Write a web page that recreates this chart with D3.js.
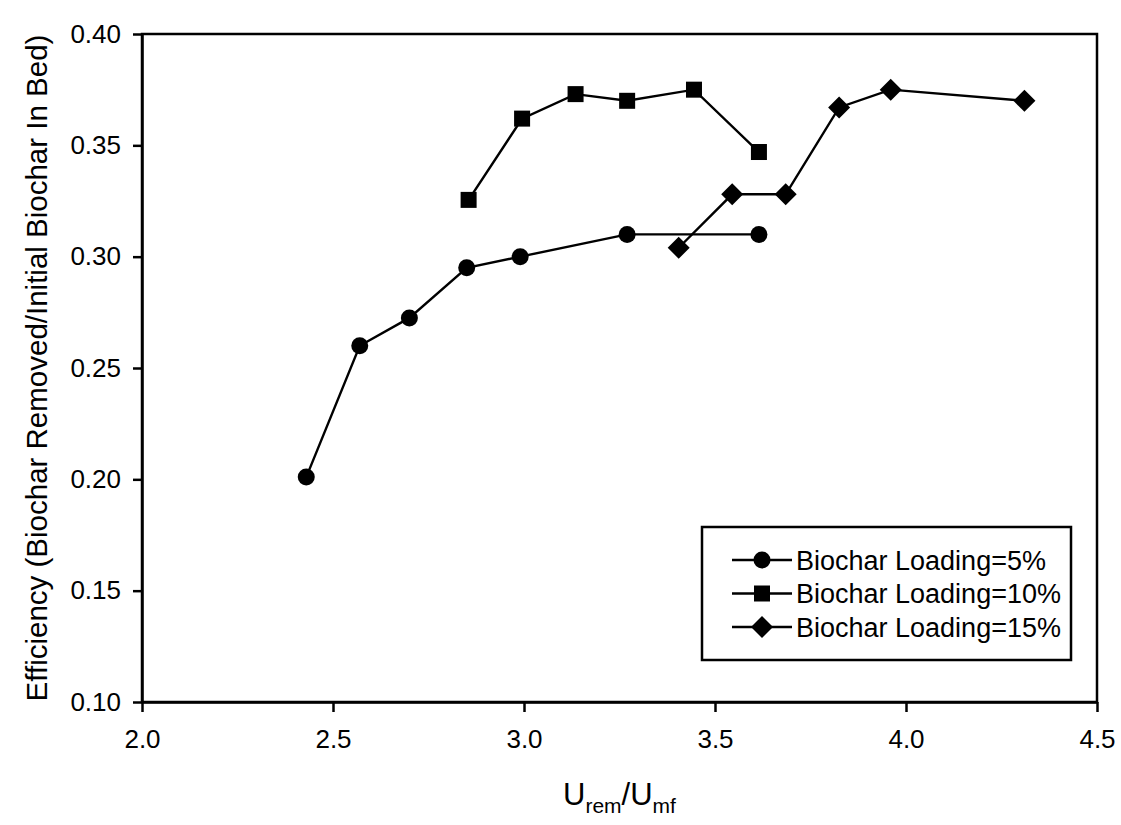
<!DOCTYPE html>
<html>
<head>
<meta charset="utf-8">
<script src="https://cdn.jsdelivr.net/npm/d3@7"></script>
<style>
  body { margin: 0; background: #fff; }
  svg text { font-family: "Liberation Sans", Arial, sans-serif; fill: #000; }
</style>
</head>
<body>
<svg id="chart" width="1121" height="825"></svg>
<script>
// data
const x5 = [2.43, 2.57, 2.70, 2.85, 2.99, 3.27, 3.615];
const y5 = [0.201, 0.260, 0.2725, 0.295, 0.300, 0.310, 0.310];
const x10 = [2.855, 2.995, 3.135, 3.27, 3.445, 3.615];
const y10 = [0.3255, 0.362, 0.373, 0.370, 0.375, 0.347];
const x15 = [3.405, 3.545, 3.685, 3.825, 3.96, 4.31];
const y15 = [0.304, 0.328, 0.328, 0.367, 0.375, 0.370];
const seriesNames = ["Biochar Loading=5%", "Biochar Loading=10%", "Biochar Loading=15%"];
const xTicks = [2.0, 2.5, 3.0, 3.5, 4.0, 4.5];
const yTicks = [0.10, 0.15, 0.20, 0.25, 0.30, 0.35, 0.40];

const plotLeft = 142, plotRight = 1097, plotTop = 34, plotBottom = 702;

const svg = d3.select("#chart");

const x = d3.scaleLinear().domain([2.0, 4.5]).range([plotLeft, plotRight]);
const y = d3.scaleLinear().domain([0.10, 0.40]).range([plotBottom, plotTop]);

// frame
svg.append("rect")
    .attr("x", plotLeft).attr("y", plotTop)
    .attr("width", plotRight - plotLeft).attr("height", plotBottom - plotTop)
    .attr("fill", "none")
    .attr("stroke", "#000")
    .attr("stroke-width", 2.5);

const xAxis = svg.append("g")
    .attr("transform", "translate(0," + plotBottom + ")")
    .call(d3.axisBottom(x).tickValues(xTicks).tickFormat(d3.format(".1f"))
        .tickSize(10).tickSizeOuter(0).tickPadding(17));

const yAxis = svg.append("g")
    .attr("transform", "translate(" + plotLeft + ",0)")
    .call(d3.axisLeft(y).tickValues(yTicks).tickFormat(d3.format(".2f"))
        .tickSize(9).tickSizeOuter(0).tickPadding(12));

[xAxis, yAxis].forEach(function(a) {
  a.select(".domain").attr("stroke-width", 2.5);
  a.selectAll(".tick line").attr("stroke-width", 2.5);
  a.selectAll("text").attr("font-size", 26).attr("font-family", null);
});
xAxis.selectAll("text").attr("dy", "0.72em");

// axis titles
svg.append("text")
    .attr("transform", "translate(47," + ((plotTop + plotBottom) / 2) + ") rotate(-90)")
    .attr("text-anchor", "middle")
    .attr("font-size", 29.5)
    .text("Efficiency (Biochar Removed/Initial Biochar In Bed)");

const xt = svg.append("text")
    .attr("x", (plotLeft + plotRight) / 2)
    .attr("y", 805)
    .attr("text-anchor", "middle")
    .attr("font-size", 31);
xt.append("tspan").text("U");
xt.append("tspan").attr("font-size", 21).attr("dy", 8).text("rem");
xt.append("tspan").attr("dy", -8).text("/U");
xt.append("tspan").attr("font-size", 21).attr("dy", 8).text("mf");

// series
const series = [
  {name: seriesNames[0], xs: x5, ys: y5, shape: "circle"},
  {name: seriesNames[1], xs: x10, ys: y10, shape: "square"},
  {name: seriesNames[2], xs: x15, ys: y15, shape: "diamond"}
];

function marker(sel, shape) {
  if (shape === "circle") {
    sel.append("circle").attr("r", 8.5);
  } else if (shape === "square") {
    sel.append("rect").attr("x", -8).attr("y", -8).attr("width", 16).attr("height", 16);
  } else {
    sel.append("path").attr("d", "M0,-11L11,0L0,11L-11,0Z");
  }
}

const line = d3.line().x(d => x(d[0])).y(d => y(d[1]));

series.forEach(function(s) {
  const pts = s.xs.map((v, i) => [v, s.ys[i]]);
  svg.append("path")
      .datum(pts)
      .attr("d", line)
      .attr("fill", "none")
      .attr("stroke", "#000")
      .attr("stroke-width", 2.4);
  svg.append("g")
    .selectAll("g")
    .data(pts)
    .join("g")
      .attr("transform", d => "translate(" + x(d[0]) + "," + y(d[1]) + ")")
      .attr("fill", "#000")
      .each(function() { marker(d3.select(this), s.shape); });
});

// legend
const legend = svg.append("g");
legend.append("rect")
    .attr("x", 702).attr("y", 527)
    .attr("width", 369).attr("height", 133)
    .attr("fill", "#fff")
    .attr("stroke", "#000")
    .attr("stroke-width", 2.5);

series.forEach(function(s, i) {
  const ly = 560 + i * 33.5;
  const row = legend.append("g");
  row.append("line")
      .attr("x1", 732).attr("x2", 792)
      .attr("y1", ly).attr("y2", ly)
      .attr("stroke", "#000").attr("stroke-width", 2.4);
  const m = row.append("g").attr("transform", "translate(762," + ly + ")").attr("fill", "#000");
  marker(m, s.shape);
  row.append("text")
      .attr("x", 796).attr("y", ly)
      .attr("dy", "0.36em")
      .attr("font-size", 27)
      .text(s.name);
});
</script>
</body>
</html>
